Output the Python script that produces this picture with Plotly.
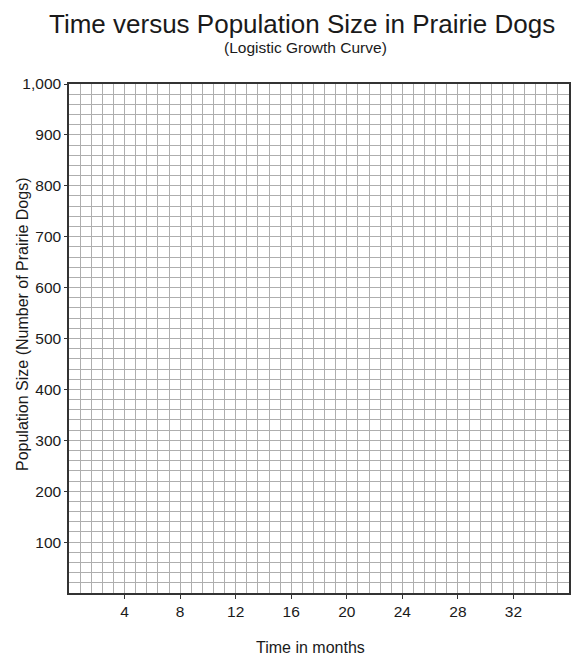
import plotly.graph_objects as go

# Data / labels
title_text = "Time versus Population Size in Prairie Dogs"
subtitle_text = "(Logistic Growth Curve)"
x_title = "Time in months"
y_title = "Population Size (Number of Prairie Dogs)"
x_tick_vals = [4, 8, 12, 16, 20, 24, 28, 32]
y_tick_vals = [100, 200, 300, 400, 500, 600, 700, 800, 900, 1000]
y_tick_text = ["100", "200", "300", "400", "500", "600", "700", "800", "900", "1,000"]
x_range = [0, 36]
y_range = [0, 1000]
x_minor_step = 0.8
y_minor_step = 20
# no data points plotted (blank worksheet)
time_months = []
population = []

FONT = "Liberation Sans, Arial, sans-serif"
GRID = "#aeaeae"
AXIS = "#333333"
TXT = "#1a1a1a"

W, H = 576, 668
ML, MR, MT, MB = 69, 7, 84, 75
plot_w = W - ML - MR
plot_h = H - MT - MB


def px(x_pix):
    return (x_pix - ML) / plot_w


def py(y_pix_from_top):
    return (H - MB - y_pix_from_top) / plot_h


fig = go.Figure(go.Scatter(x=time_months, y=population, mode="markers",
                           marker=dict(color="black")))

fig.update_layout(
    width=W, height=H,
    margin=dict(l=ML, r=MR, t=MT, b=MB, autoexpand=False),
    paper_bgcolor="white", plot_bgcolor="white",
    showlegend=False,
    font=dict(family=FONT, color=TXT),
    annotations=[
        dict(text=title_text, x=px(302), y=py(24), xref="paper", yref="paper",
             xanchor="center", yanchor="middle", showarrow=False,
             font=dict(size=26, family=FONT, color=TXT)),
        dict(text=subtitle_text, x=px(305), y=py(47), xref="paper", yref="paper",
             xanchor="center", yanchor="middle", showarrow=False,
             font=dict(size=15.5, family=FONT, color=TXT)),
        dict(text=x_title, x=px(310), y=py(647), xref="paper", yref="paper",
             xanchor="center", yanchor="middle", showarrow=False,
             font=dict(size=16, family=FONT, color=TXT)),
        dict(text=y_title, x=px(22), y=py(325), xref="paper", yref="paper",
             xanchor="center", yanchor="middle", showarrow=False, textangle=-90,
             font=dict(size=16, family=FONT, color=TXT)),
    ],
)

fig.update_xaxes(
    range=x_range, tickmode="array", tickvals=x_tick_vals,
    ticks="outside", ticklen=4, tickcolor=AXIS, tickwidth=1,
    tickfont=dict(size=15.5, family=FONT, color=TXT),
    showgrid=True, gridcolor=GRID, gridwidth=1,
    minor=dict(tickmode="linear", tick0=0, dtick=x_minor_step, showgrid=True,
               gridcolor=GRID, gridwidth=1, ticks=""),
    showline=True, linecolor=AXIS, linewidth=1.5, mirror=True,
    zeroline=False, fixedrange=True, automargin=False,
)
fig.update_yaxes(
    range=y_range, tickmode="array", tickvals=y_tick_vals, ticktext=y_tick_text,
    ticks="outside", ticklen=3, tickcolor=AXIS, tickwidth=1,
    tickfont=dict(size=15.5, family=FONT, color=TXT),
    showgrid=True, gridcolor=GRID, gridwidth=1,
    minor=dict(tickmode="linear", tick0=0, dtick=y_minor_step, showgrid=True,
               gridcolor=GRID, gridwidth=1, ticks=""),
    showline=True, linecolor=AXIS, linewidth=1.5, mirror=True,
    zeroline=False, fixedrange=True, automargin=False,
)

fig.write_html("out.html", config={"displayModeBar": False},
               post_script="document.body.style.margin='0px';document.body.style.overflow='hidden';")
